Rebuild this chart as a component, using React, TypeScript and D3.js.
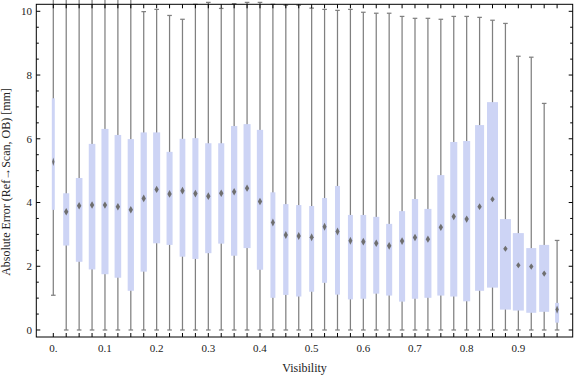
import React from 'react';
import * as d3 from 'd3';

// visibility bins (box centres)
const visibility = [
  0, 0.025, 0.05, 0.075, 0.1, 0.125, 0.15, 0.175, 0.2, 0.225,
  0.25, 0.275, 0.3, 0.325, 0.35, 0.375, 0.4, 0.425, 0.45, 0.475,
  0.5, 0.525, 0.55, 0.575, 0.6, 0.625, 0.65, 0.675, 0.7, 0.725,
  0.75, 0.775, 0.8, 0.825, 0.85, 0.875, 0.9, 0.925, 0.95, 0.975,
];

const whiskerLow = [
  1.09, 0, 0, 0, 0, 0, 0, 0, 0, 0,
  0, 0, 0, 0, 0, 0, 0, 0, 0, 0,
  0, 0, 0, 0, 0, 0, 0, 0, 0, 0,
  0, 0, 0, 0, 0, 0, 0, 0, 0, 0,
];

const q1 = [
  3.77, 2.65, 2.14, 1.9, 1.75, 1.64, 1.23, 1.83, 2.72, 2.67,
  2.3, 2.23, 2.41, 2.71, 2.33, 2.57, 1.89, 1.01, 1.1, 1.05,
  1.2, 1.48, 1.11, 0.96, 0.98, 1.14, 1.08, 0.89, 0.98, 1.01,
  1.08, 1.05, 0.9, 1.23, 1.33, 0.64, 0.61, 0.54, 0.57, 0.23,
];

const median = [
  5.28, 3.71, 3.9, 3.92, 3.92, 3.87, 3.77, 4.13, 4.41, 4.27,
  4.37, 4.28, 4.2, 4.29, 4.34, 4.45, 4.03, 3.37, 2.98, 2.95,
  2.91, 3.24, 3.09, 2.8, 2.77, 2.72, 2.64, 2.79, 2.9, 2.85,
  3.22, 3.56, 3.48, 3.87, 4.1, 2.55, 2.03, 1.99, 1.77, 0.64,
];

const q3 = [
  7.27, 4.29, 4.77, 5.84, 6.31, 6.12, 5.99, 6.2, 6.2, 5.59,
  6.0, 6.02, 5.86, 5.86, 6.4, 6.46, 6.28, 4.32, 3.95, 3.92,
  3.89, 4.14, 4.52, 3.61, 3.61, 3.55, 3.33, 3.73, 4.11, 3.8,
  4.86, 5.9, 5.93, 6.43, 7.15, 3.48, 3.04, 2.57, 2.67, 0.85,
];

const whiskerHigh = [
  10.6, 10.6, 10.6, 10.6, 10.6, 10.6, 10.6, 9.99, 10.06, 9.87,
  9.75, 10.22, 10.28, 10.09, 10.24, 10.28, 10.28, 10.22, 10.19, 10.19,
  10.1, 10.06, 10.03, 10.06, 9.97, 9.94, 9.94, 9.84, 9.78, 9.78,
  9.75, 9.84, 9.84, 9.81, 9.72, 9.62, 8.59, 8.56, 7.11, 2.81,
];

// relative sample weight per bin (drives box width)
const binWeight = [
  0.27, 0.55, 0.6, 0.6, 0.64, 0.6, 0.57, 0.57, 0.64, 0.55,
  0.52, 0.55, 0.57, 0.55, 0.57, 0.64, 0.57, 0.45, 0.48, 0.48,
  0.45, 0.45, 0.45, 0.45, 0.52, 0.55, 0.55, 0.55, 0.57, 0.64,
  0.64, 0.64, 0.64, 0.82, 1, 1, 1, 0.91, 0.91, 0.36,
];

const xTickValues = [0, 0.1, 0.2, 0.3, 0.4, 0.5, 0.6, 0.7, 0.8, 0.9];
const xTickLabels = ['0.', '0.1', '0.2', '0.3', '0.4', '0.5', '0.6', '0.7', '0.8', '0.9'];
const yTickValues = [0, 2, 4, 6, 8, 10];

const W = 576;
const H = 377;
const font = '"Liberation Serif", "Times New Roman", serif';

export default function App() {
  const x = d3.scaleLinear().domain([-0.0329, 1.0052]).range([36.3, 572.7]);
  const y = d3.scaleLinear().domain([-0.22, 10.22]).range([337, 4.3]);
  const wScale = d3.scaleLinear().domain([0, 1]).range([0, 11]);

  const [x0, x1] = x.range();
  const [yb, yt] = y.range();
  const minorY = y.ticks(20);

  const boxes = visibility.map((v, i) => ({
    v,
    lo: whiskerLow[i],
    q1: q1[i],
    med: median[i],
    q3: q3[i],
    hi: whiskerHigh[i],
    w: wScale(binWeight[i]),
  }));

  return (
    <svg width={W} height={H} style={{ position: 'fixed', left: 0, top: 0, background: '#fff' }}>
      {/* whiskers */}
      <g stroke="#808080" strokeWidth={1.25}>
        {boxes.map((b, i) => {
          const cx = x(b.v);
          return (
            <g key={i}>
              <line x1={cx} x2={cx} y1={y(b.lo)} y2={y(b.hi)} />
              <line x1={cx - 2.3} x2={cx + 2.3} y1={y(b.lo)} y2={y(b.lo)} />
              <line x1={cx - 2.3} x2={cx + 2.3} y1={y(b.hi)} y2={y(b.hi)} />
            </g>
          );
        })}
      </g>
      {/* boxes */}
      <g fill="#cdd4f5">
        {boxes.map((b, i) => (
          <rect key={i} x={x(b.v) - b.w / 2} width={b.w} y={y(b.q3)} height={y(b.q1) - y(b.q3)} />
        ))}
      </g>
      {/* median markers */}
      <g fill="#6f6f6f">
        {boxes.map((b, i) => {
          const cx = x(b.v);
          const cy = y(b.med);
          const hw = Math.min(2.2, b.w / 2.5);
          const hh = 4.8 - 1.8 * binWeight[i];
          return <path key={i} d={`M${cx},${cy - hh}L${cx + hw},${cy}L${cx},${cy + hh}L${cx - hw},${cy}Z`} />;
        })}
      </g>
      {/* frame */}
      <rect x={x0} y={yt} width={x1 - x0} height={yb - yt} fill="none" stroke="#000" strokeWidth={1} />
      {/* ticks, all pointing inward */}
      <g stroke="#000" strokeWidth={1}>
        {visibility.map((v, i) => (
          <g key={i}>
            <line x1={x(v)} x2={x(v)} y1={yb} y2={yb - 4} />
            <line x1={x(v)} x2={x(v)} y1={yt} y2={yt + 4} />
          </g>
        ))}
        {minorY.map((t, i) => {
          const major = yTickValues.includes(t);
          const len = major ? 4 : 2.5;
          return (
            <g key={i}>
              <line x1={x0} x2={x0 + len} y1={y(t)} y2={y(t)} />
              <line x1={x1} x2={x1 - len} y1={y(t)} y2={y(t)} />
            </g>
          );
        })}
      </g>
      {/* tick labels */}
      <g fontFamily={font} fontSize={11} fill="#222">
        {xTickValues.map((v, i) => (
          <text key={i} x={x(v)} y={351.5} textAnchor="middle">{xTickLabels[i]}</text>
        ))}
        {yTickValues.map((t, i) => (
          <text key={i} x={32} y={y(t)} dy="0.35em" textAnchor="end">{t}</text>
        ))}
      </g>
      {/* axis titles */}
      <text x={(x0 + x1) / 2} y={372} textAnchor="middle" fontFamily={font} fontSize={12} fill="#222">
        Visibility
      </text>
      <text
        transform={`translate(10,182) rotate(-90)`}
        textAnchor="middle"
        fontFamily={font}
        fontSize={12}
        fill="#222"
      >
        Absolute Error (Ref→Scan, OB) [mm]
      </text>
    </svg>
  );
}
